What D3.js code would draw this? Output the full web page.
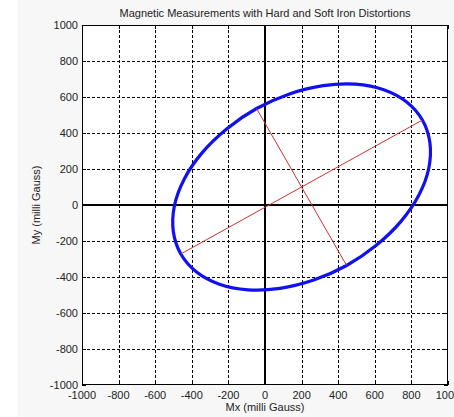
<!DOCTYPE html>
<html><head><meta charset="utf-8">
<script src="https://cdn.jsdelivr.net/npm/d3@7"></script>
<style>html,body{margin:0;padding:0;background:#fff;}svg{display:block;}</style>
</head><body>
<svg id="chart" width="454" height="417"></svg>
<script>
// Data
const xTicks = [-1000,-800,-600,-400,-200,0,200,400,600,800,1000];
const yTicks = [-1000,-800,-600,-400,-200,0,200,400,600,800,1000];
const measX = [860,774,649,493,318,134,-46,-208,-343,-441,-495,-501,-460,-374,-249,-93,82,266,446,608,743,841,895,901];
const measY = [472,572,640,671,663,617,536,424,291,145,-4,-147,-272,-372,-440,-471,-463,-417,-336,-224,-91,55,204,347];
const majorAxisX = [-460, 860];
const majorAxisY = [-272, 472];
const minorAxisX = [-46, 446];
const minorAxisY = [536, -336];

const svg = d3.select("#chart");
const W = 454, H = 417;
svg.append("rect").attr("x",0).attr("y",0).attr("width",W).attr("height",H).attr("fill","#fff");
svg.append("rect").attr("x",18).attr("y",0).attr("width",W-18).attr("height",H).attr("fill","#f7f7f7");

const L = 82, R = 448, T = 25, B = 385;
const x = d3.scaleLinear().domain([-1000,1000]).range([L,R]);
const y = d3.scaleLinear().domain([-1000,1000]).range([B,T]);
const font = "'Liberation Sans', Arial, sans-serif";

svg.append("rect").attr("x",L).attr("y",T).attr("width",R-L).attr("height",B-T).attr("fill","#fff");

// grid
const g = svg.append("g");
g.selectAll(".gx").data(xTicks.filter(d=>d!==-1000&&d!==1000&&d!==0)).enter().append("line")
  .attr("x1",d=>Math.round(x(d))+0.5).attr("x2",d=>Math.round(x(d))+0.5).attr("y1",T).attr("y2",B)
  .attr("stroke","#000").attr("stroke-width",1).attr("stroke-dasharray","3,2");
g.selectAll(".gy").data(yTicks.filter(d=>d!==-1000&&d!==1000&&d!==0)).enter().append("line")
  .attr("y1",d=>Math.round(y(d))+0.5).attr("y2",d=>Math.round(y(d))+0.5).attr("x1",L).attr("x2",R)
  .attr("stroke","#000").attr("stroke-width",1).attr("stroke-dasharray","3,2");

// ticks inward on all four sides
const tk = 4;
xTicks.forEach(d=>{
  const px = Math.round(x(d))+0.5;
  g.append("line").attr("x1",px).attr("x2",px).attr("y1",B).attr("y2",B-tk).attr("stroke","#000");
  g.append("line").attr("x1",px).attr("x2",px).attr("y1",T).attr("y2",T+tk).attr("stroke","#000");
});
yTicks.forEach(d=>{
  const py = Math.round(y(d))+0.5;
  g.append("line").attr("y1",py).attr("y2",py).attr("x1",L).attr("x2",L+tk).attr("stroke","#000");
  g.append("line").attr("y1",py).attr("y2",py).attr("x1",R).attr("x2",R-tk).attr("stroke","#000");
});

// zero axes
g.append("line").attr("x1",x(0)).attr("x2",x(0)).attr("y1",T).attr("y2",B).attr("stroke","#000").attr("stroke-width",2);
g.append("line").attr("y1",y(0)).attr("y2",y(0)).attr("x1",L).attr("x2",R).attr("stroke","#000").attr("stroke-width",2);

// measurements
const pts = measX.map((v,i)=>[x(v), y(measY[i])]);
svg.append("path").attr("d", d3.line().curve(d3.curveCatmullRomClosed)(pts))
  .attr("fill","none").attr("stroke","#1010f0").attr("stroke-width",3.2);

// red axes of ellipse
svg.append("line").attr("x1",x(majorAxisX[0])).attr("y1",y(majorAxisY[0])).attr("x2",x(majorAxisX[1])).attr("y2",y(majorAxisY[1]))
  .attr("stroke","#d03030").attr("stroke-width",1);
svg.append("line").attr("x1",x(minorAxisX[0])).attr("y1",y(minorAxisY[0])).attr("x2",x(minorAxisX[1])).attr("y2",y(minorAxisY[1]))
  .attr("stroke","#d03030").attr("stroke-width",1);

// box
svg.append("rect").attr("x",L+0.5).attr("y",T+0.5).attr("width",R-L-1).attr("height",B-T-1)
  .attr("fill","none").attr("stroke","#000").attr("stroke-width",1);

// tick labels
svg.selectAll(".xl").data(xTicks).enter().append("text")
  .attr("x",d=>x(d)).attr("y",B+14).attr("text-anchor","middle")
  .attr("font-family",font).attr("font-size",11).attr("fill","#222").text(d=>d);
svg.selectAll(".yl").data(yTicks).enter().append("text")
  .attr("x",L-4).attr("y",d=>y(d)+4).attr("text-anchor","end")
  .attr("font-family",font).attr("font-size",11).attr("fill","#222").text(d=>d);

// titles
svg.append("text").attr("x",(L+R)/2).attr("y",17).attr("text-anchor","middle")
  .attr("font-family",font).attr("font-size",11).attr("fill","#222")
  .text("Magnetic Measurements with Hard and Soft Iron Distortions");
svg.append("text").attr("x",(L+R)/2).attr("y",411).attr("text-anchor","middle")
  .attr("font-family",font).attr("font-size",11).attr("fill","#222").text("Mx (milli Gauss)");
svg.append("text").attr("transform",`translate(40,${(T+B)/2}) rotate(-90)`).attr("text-anchor","middle")
  .attr("font-family",font).attr("font-size",11).attr("fill","#222").text("My (milli Gauss)");
</script>
</body></html>
